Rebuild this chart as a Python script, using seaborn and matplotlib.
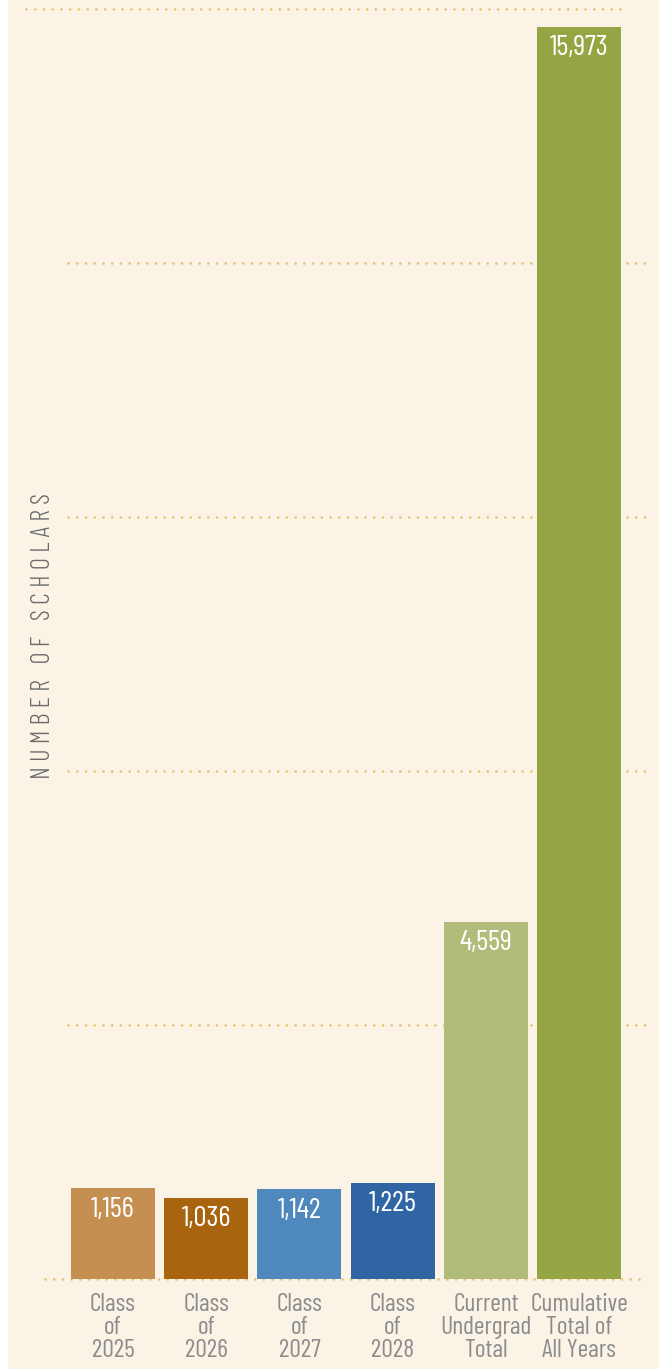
import matplotlib
matplotlib.use("Agg")
import numpy as np
import pandas as pd
import matplotlib.pyplot as plt
import matplotlib.patches as mpatches
import seaborn as sns

# data
categories = ["Class\nof\n2025", "Class\nof\n2026", "Class\nof\n2027",
              "Class\nof\n2028", "Current\nUndergrad\nTotal",
              "Cumulative\nTotal of\nAll Years"]
scholars = [1156, 1036, 1142, 1225, 4559, 15973]
bar_colors = ["#C68F52", "#A8640F", "#4E88BC", "#3065A4", "#B2BC7A", "#95A543"]
grid_step = 3240

cream = "#FAF3E6"
dot_color = "#E2C46C"
text_gray = "#8C8C8C"

sns.set_theme(style="white")
plt.rcParams['font.family'] = ['Barlow Condensed', 'DejaVu Sans']

df = pd.DataFrame({"cat": categories, "n": scholars})

W, H = 666.0, 1369.0
fig = plt.figure(figsize=(W / 100, H / 100), dpi=100)
fig.patch.set_facecolor("white")
fig.patches.append(mpatches.Rectangle((8 / W, 0), 651 / W, 1,
                                      transform=fig.transFigure,
                                      facecolor=cream, edgecolor="none",
                                      zorder=-10))

ax = fig.add_axes([26 / W, 90 / H, 624 / W, 1279 / H])
ax.set_facecolor("none")

sns.barplot(data=df, x="cat", y="n", hue="cat", palette=bar_colors,
            width=0.9, legend=False, saturation=1, ax=ax, zorder=3,
            edgecolor="none", linewidth=0)

ax.set_xlim(-0.933, 5.76)
ax.set_ylim(0, 16318)

# dotted guide lines (different horizontal extents, like the original)
levels = np.arange(0, 6) * grid_step
for i, lv in enumerate(levels):
    if i == 0:
        x0, x1 = -0.73, 5.71
    elif i == len(levels) - 1:
        x0, x1 = -0.93, 5.48
    else:
        x0, x1 = -0.48, 5.76
    ax.plot([x0, x1], [lv, lv], color=dot_color, lw=1.9,
            linestyle=(0, (0.01, 3.3)), dash_capstyle="round",
            solid_capstyle="round", zorder=1, clip_on=False)

# value labels inside the bars
for i, v in enumerate(scholars):
    ax.annotate(f"{v:,}", (i, v), xytext=(0, -6), textcoords="offset points",
                ha="center", va="top", color="white", fontsize=21)

for s in ax.spines.values():
    s.set_visible(False)
ax.set_yticks([])
ax.tick_params(axis="x", length=0, pad=10)
ax.set_xticks(range(len(categories)))
ax.set_xticklabels(categories, color=text_gray, fontsize=18.5, linespacing=1.0)
ax.set_xlabel("")
ax.set_ylabel("")

label = "   ".join(" ".join(w) for w in "NUMBER OF SCHOLARS".split())
fig.text(43 / W, 1 - 636 / H, label, rotation=90, ha="center", va="center",
         color="#6A6A6A", fontsize=19, fontweight=300)

fig.savefig("out.png", dpi=100, facecolor=fig.get_facecolor())
